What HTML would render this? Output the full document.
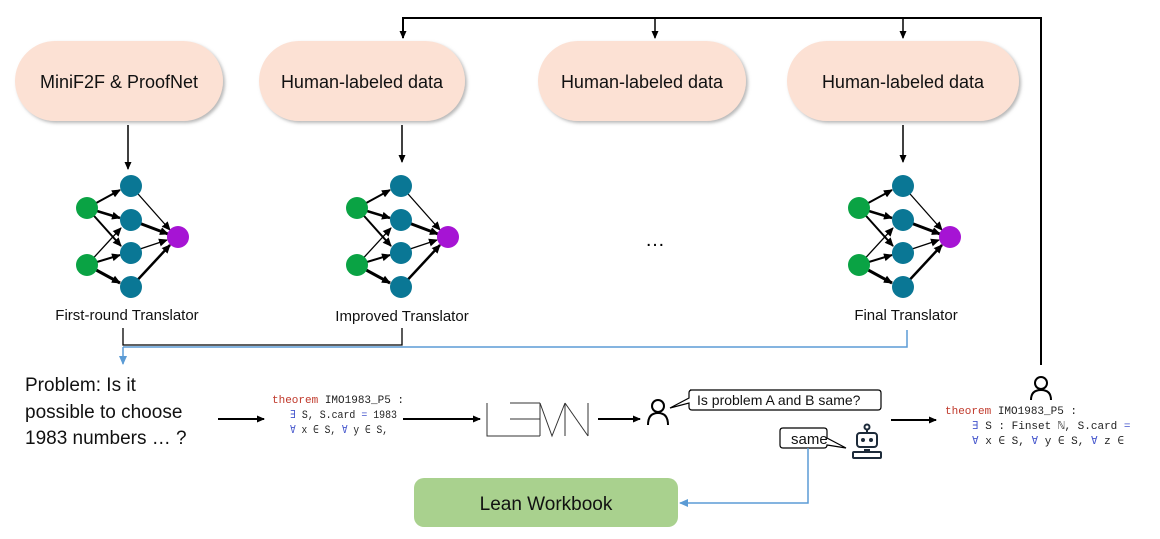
<!DOCTYPE html>
<html><head><meta charset="utf-8"><style>
html,body{margin:0;padding:0;background:#fff;}
svg{display:block;}
.s{font-family:"Liberation Sans","DejaVu Sans",sans-serif;}
.m{font-family:"Liberation Mono","DejaVu Sans Mono",monospace;font-size:11px;}
</style></head><body>
<svg width="1160" height="539" viewBox="0 0 1160 539" xmlns="http://www.w3.org/2000/svg">
<defs>
<marker id="a" markerWidth="8" markerHeight="8" refX="7" refY="4" orient="auto" markerUnits="userSpaceOnUse"><path d="M0,0.5 L8,4 L0,7.5z" fill="#000"/></marker>
<marker id="b" markerWidth="9" markerHeight="9" refX="8" refY="4.5" orient="auto" markerUnits="userSpaceOnUse"><path d="M0,0.5 L9,4.5 L0,8.5z" fill="#5b9bd5"/></marker>
<marker id="n" markerWidth="9" markerHeight="9" refX="8" refY="4.5" orient="auto" markerUnits="userSpaceOnUse"><path d="M0,0.5 L9,4.5 L0,8.5z" fill="#000"/></marker>
<filter id="sh" x="-10%" y="-10%" width="130%" height="130%"><feDropShadow dx="2" dy="2" stdDeviation="1.5" flood-color="#888" flood-opacity="0.6"/></filter>
<g id="net">
<g stroke="#000" marker-end="url(#n)">
<line x1="87" y1="208" x2="120" y2="190" stroke-width="2"/>
<line x1="87" y1="208" x2="120" y2="218" stroke-width="2.5"/>
<line x1="87" y1="208" x2="121" y2="246" stroke-width="2"/>
<line x1="87" y1="265" x2="121" y2="228" stroke-width="1.3"/>
<line x1="87" y1="265" x2="120" y2="255" stroke-width="2"/>
<line x1="87" y1="265" x2="120" y2="283" stroke-width="3"/>
<line x1="131" y1="186" x2="170" y2="230" stroke-width="1.3"/>
<line x1="131" y1="220" x2="168" y2="234" stroke-width="3"/>
<line x1="131" y1="252" x2="167" y2="240" stroke-width="1.3"/>
<line x1="131" y1="287" x2="170" y2="245" stroke-width="2.5"/>
</g>
<circle cx="87" cy="208" r="11" fill="#0aa344"/>
<circle cx="87" cy="265" r="11" fill="#0aa344"/>
<circle cx="131" cy="186" r="11" fill="#0a7795"/>
<circle cx="131" cy="220" r="11" fill="#0a7795"/>
<circle cx="131" cy="253" r="11" fill="#0a7795"/>
<circle cx="131" cy="287" r="11" fill="#0a7795"/>
<circle cx="178" cy="237" r="11" fill="#a614d4"/>
</g>
</defs>

<polyline points="1041,365 1041,18 403,18 403,38" fill="none" stroke="#000" stroke-width="2" marker-end="url(#a)"/>
<line x1="655" y1="18" x2="655" y2="38" stroke="#000" stroke-width="1.5" marker-end="url(#a)"/>
<line x1="903" y1="18" x2="903" y2="38" stroke="#000" stroke-width="1.5" marker-end="url(#a)"/>

<g filter="url(#sh)" fill="#fce1d4">
<rect x="15" y="41" width="208" height="80" rx="40"/>
<rect x="259" y="41" width="206" height="80" rx="40"/>
<rect x="538" y="41" width="208" height="80" rx="40"/>
<rect x="787" y="41" width="232" height="80" rx="40"/>
</g>
<g class="s" font-size="18" text-anchor="middle" fill="#111">
<text x="119" y="88">MiniF2F &amp; ProofNet</text>
<text x="362" y="88">Human-labeled data</text>
<text x="642" y="88">Human-labeled data</text>
<text x="903" y="88">Human-labeled data</text>
</g>

<line x1="128" y1="125" x2="128" y2="169" stroke="#000" stroke-width="1.5" marker-end="url(#a)"/>
<line x1="402" y1="125" x2="402" y2="162" stroke="#000" stroke-width="1.5" marker-end="url(#a)"/>
<line x1="903" y1="125" x2="903" y2="162" stroke="#000" stroke-width="1.5" marker-end="url(#a)"/>

<use href="#net"/>
<use href="#net" x="270"/>
<use href="#net" x="772"/>

<text x="655" y="246" class="s" font-size="20" text-anchor="middle">…</text>

<g class="s" font-size="15" text-anchor="middle" fill="#111">
<text x="127" y="320">First-round Translator</text>
<text x="402" y="321">Improved Translator</text>
<text x="906" y="320">Final Translator</text>
</g>

<polyline points="907,330 907,347 123,347" fill="none" stroke="#5b9bd5" stroke-width="1.5"/>
<line x1="123" y1="347" x2="123" y2="364" stroke="#5b9bd5" stroke-width="1.5" marker-end="url(#b)"/>
<polyline points="123,328 123,345 402,345 402,328" fill="none" stroke="#000" stroke-width="1.3"/>

<g class="s" font-size="19" fill="#111">
<text x="25" y="391">Problem: Is it</text>
<text x="25" y="418">possible to choose</text>
<text x="25" y="444">1983 numbers … ?</text>
</g>
<line x1="218" y1="419" x2="264" y2="419" stroke="#000" stroke-width="2" marker-end="url(#a)"/>

<g class="m" fill="#222">
<text x="272" y="403"><tspan fill="#c0392b">theorem</tspan> IMO1983_P5 :</text>
<text x="290" y="418" textLength="107" lengthAdjust="spacingAndGlyphs"><tspan fill="#4455cc">∃</tspan> S, S.card <tspan fill="#4455cc">=</tspan> 1983</text>
<text x="290" y="433" textLength="98" lengthAdjust="spacingAndGlyphs"><tspan fill="#4455cc">∀</tspan> x ∈ S, <tspan fill="#4455cc">∀</tspan> y ∈ S,</text>
</g>

<line x1="403" y1="419" x2="480" y2="419" stroke="#000" stroke-width="2" marker-end="url(#a)"/>

<g stroke="#333" stroke-width="1" fill="none">
<polyline points="487,403 487,436 540,436"/>
<line x1="510" y1="403" x2="540" y2="403"/>
<line x1="510" y1="419" x2="540" y2="419"/>
<line x1="540" y1="403" x2="540" y2="436"/>
<polyline points="540,403 552,436 565,403"/>
<line x1="565" y1="403" x2="565" y2="436"/>
<line x1="565" y1="403" x2="588" y2="436"/>
<line x1="588" y1="403" x2="588" y2="436"/>
</g>

<line x1="598" y1="419" x2="640" y2="419" stroke="#000" stroke-width="2" marker-end="url(#a)"/>

<g stroke="#000" stroke-width="2" fill="none">
<circle cx="658" cy="406" r="6"/>
<path d="M648,425 Q648,413 658,413 Q668,413 668,425"/>
</g>
<path d="M690,390 H878 Q881,390 881,393 V407 Q881,410 878,410 H692 Q689,410 689,407 V403 L670,408 L689,398 V393 Q689,390 692,390Z" fill="#fff" stroke="#000" stroke-width="1.2"/>
<text x="697" y="405" class="s" font-size="14" fill="#111">Is problem A and B same?</text>

<line x1="891" y1="420" x2="936" y2="420" stroke="#000" stroke-width="2" marker-end="url(#a)"/>

<path d="M783,428 H824 Q827,428 827,431 V438 L846,448 L827,445 Q827,448 824,448 H783 Q780,448 780,445 V431 Q780,428 783,428Z" fill="#fff" stroke="#000" stroke-width="1.2"/>
<text x="791" y="444" class="s" font-size="15" fill="#111">same</text>

<g stroke="#1d2b3a" stroke-width="2" fill="none">
<circle cx="867" cy="427" r="2.5"/>
<line x1="867" y1="430" x2="867" y2="433"/>
<rect x="857" y="433" width="20" height="14" rx="3"/>
<line x1="864" y1="450" x2="870" y2="450"/>
<rect x="853" y="452" width="28" height="6" rx="1"/>
</g>
<circle cx="863" cy="440" r="2" fill="#1d2b3a"/>
<circle cx="871" cy="440" r="2" fill="#1d2b3a"/>

<polyline points="808,448 808,503 680,503" fill="none" stroke="#5b9bd5" stroke-width="1.5" marker-end="url(#b)"/>
<rect x="414" y="478" width="264" height="49" rx="10" fill="#a9d18e"/>
<text x="546" y="510" class="s" font-size="19" text-anchor="middle" fill="#111">Lean Workbook</text>

<g stroke="#000" stroke-width="2" fill="none">
<circle cx="1041" cy="383" r="6"/>
<path d="M1031,400 Q1031,390 1041,390 Q1051,390 1051,400"/>
</g>
<g class="m" fill="#222">
<text x="945" y="414"><tspan fill="#c0392b">theorem</tspan> IMO1983_P5 :</text>
<text x="972" y="429"><tspan fill="#4455cc">∃</tspan> S : Finset ℕ, S.card <tspan fill="#4455cc">=</tspan></text>
<text x="972" y="444"><tspan fill="#4455cc">∀</tspan> x ∈ S, <tspan fill="#4455cc">∀</tspan> y ∈ S, <tspan fill="#4455cc">∀</tspan> z ∈</text>
</g>
</svg>
</body></html>
